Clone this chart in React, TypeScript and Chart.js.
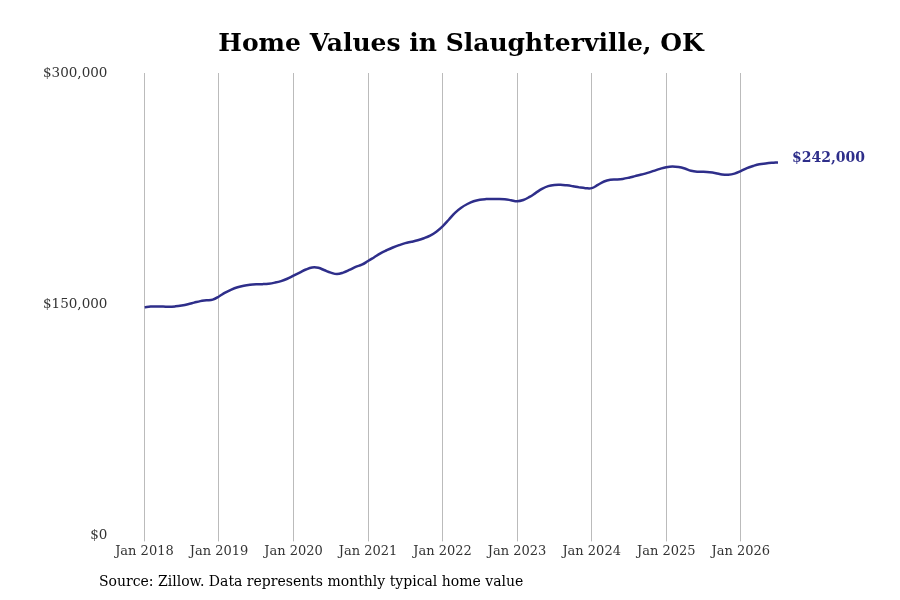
import { useEffect, useRef } from 'react'
import Chart from 'chart.js/auto'

// monthly typical home value, Jan 2018 .. Jul 2026
const values2018 = [148, 148.5, 148.5, 148.5, 148.3, 148.6, 149.2, 150, 151, 152, 152.5, 153]
const values2019 = [155, 157.5, 159.5, 161, 162, 162.6, 162.9, 163, 163.3, 164, 165, 166.5]
const values2020 = [168.5, 170.5, 172.5, 173.8, 173.6, 172, 170.5, 169.6, 170.5, 172.2, 174.2, 175.6]
const values2021 = [178, 180.5, 183, 185, 186.8, 188.3, 189.6, 190.5, 191.5, 192.8, 194.5, 197]
const values2022 = [200.5, 204.8, 209.3, 212.6, 215, 216.8, 217.8, 218.2, 218.3, 218.3, 218.1, 217.5]
const values2023 = [216.8, 217.6, 219.6, 222.2, 224.8, 226.6, 227.4, 227.5, 227.1, 226.5, 225.8, 225.3]
const values2024 = [225.3, 227.4, 229.6, 230.7, 230.9, 231.3, 232.1, 233.1, 234.1, 235.2, 236.5, 237.8]
const values2025 = [238.9, 239.4, 239, 238, 236.6, 236, 235.9, 235.6, 235, 234.2, 234, 234.7]
const values2026 = [236.3, 238.3, 239.7, 240.8, 241.3, 241.7, 242]
const homeValues = [...values2018, ...values2019, ...values2020, ...values2021, ...values2022, ...values2023, ...values2024, ...values2025, ...values2026].map(v => v * 1000)
const yearLabels = ['2018', '2019', '2020', '2021', '2022', '2023', '2024', '2025', '2026']
const yTicks = [0, 150000, 300000]
const lastLabel = '$242,000'
const lineColor = '#2e2e8a'

const App = () => {
  const chartRef = useRef<HTMLCanvasElement>(null)
  const chartInstance = useRef<Chart | null>(null)

  useEffect(() => {
    if (!chartRef.current) return
    document.body.style.margin = '0'
    if (chartInstance.current) chartInstance.current.destroy()

    const endLabel = {
      id: 'endLabel',
      afterDatasetsDraw(chart: any) {
        const pts = chart.getDatasetMeta(0).data
        const p = pts[pts.length - 1]
        const ctx = chart.ctx
        ctx.save()
        ctx.font = 'bold 14px "DejaVu Serif", serif'
        ctx.fillStyle = lineColor
        ctx.textBaseline = 'middle'
        ctx.fillText(lastLabel, p.x + 14, p.y - 4)
        ctx.restore()
      }
    }

    chartInstance.current = new Chart(chartRef.current, {
      type: 'line',
      data: {
        datasets: [{
          data: homeValues.map((v, i) => ({ x: i, y: v })),
          borderColor: lineColor,
          borderWidth: 2.5,
          pointRadius: 0,
          tension: 0.4,
          fill: false
        }]
      },
      options: {
        animation: false,
        responsive: false,
        layout: { padding: { left: 14, right: 122, top: 73, bottom: 39 } },
        plugins: {
          legend: { display: false },
          tooltip: { enabled: false },
          title: { display: false }
        },
        scales: {
          x: {
            type: 'linear',
            min: 0,
            max: homeValues.length - 1,
            afterBuildTicks: (axis: any) => {
              axis.ticks = yearLabels.map((_, i) => ({ value: i * 12 }))
            },
            ticks: {
              callback: (v: any) => 'Jan ' + yearLabels[Math.round(Number(v) / 12)],
              font: { family: '"DejaVu Serif", serif', size: 13 },
              color: '#333',
              maxRotation: 0,
              padding: 2
            },
            grid: { color: '#bbbbbb', tickLength: 6, drawTicks: true },
            border: { display: false }
          },
          y: {
            min: 0,
            max: 300000,
            afterBuildTicks: (axis: any) => {
              axis.ticks = yTicks.map(v => ({ value: v }))
            },
            ticks: {
              callback: (v: any) => '$' + Number(v).toLocaleString('en-US'),
              font: { family: '"DejaVu Serif", serif', size: 13.5 },
              color: '#333',
              padding: 29
            },
            grid: { display: false },
            border: { display: false }
          }
        }
      },
      plugins: [endLabel]
    })

    return () => {
      if (chartInstance.current) chartInstance.current.destroy()
    }
  }, [])

  return (
    <div style={{ position: 'relative', width: 900, height: 600, background: '#fff' }}>
      <canvas ref={chartRef} width={900} height={600}></canvas>
      <div style={{ position: 'absolute', left: 0, width: 922, top: 28, textAlign: 'center', fontFamily: '"DejaVu Serif", serif', fontSize: 25, fontWeight: 'bold', color: '#000' }}>
        Home Values in Slaughterville, OK
      </div>
      <div style={{ position: 'absolute', left: 99, top: 573, fontFamily: '"DejaVu Serif", serif', fontSize: 14, color: '#000' }}>
        Source: Zillow. Data represents monthly typical home value
      </div>
    </div>
  )
}

export default App
